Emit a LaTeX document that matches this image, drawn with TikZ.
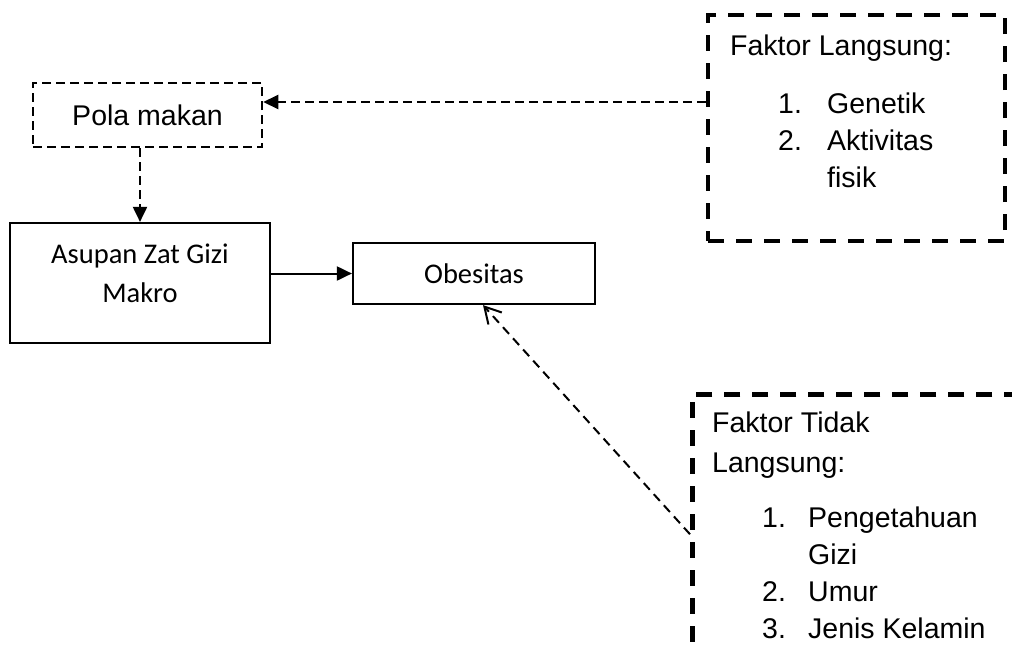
\documentclass[tikz,border=0pt]{standalone}
\usepackage{fontspec}
\setmainfont{Liberation Sans}
\newfontfamily\calibrifont{Carlito}
\usetikzlibrary{arrows.meta,positioning}
\tikzset{
solidbox/.style={
	draw, line width=2.2pt, inner sep=0pt, align=center,
	font=\calibrifont\fontsize{28.5}{39}\selectfont},
dashbox/.style={
	draw, line width=2.5pt, dash pattern=on 9pt off 5pt, inner sep=0pt,
	font=\fontsize{28.5}{37}\selectfont},
factorbox/.style={
	draw, line width=4.5pt, dash pattern=on 16pt off 12pt, inner sep=0pt},
listtxt/.style={
	inner sep=0pt, anchor=base west, font=\fontsize{28.5}{37}\selectfont},
link/.style={line width=2pt, -{Triangle[length=15pt,width=14pt]}},
dashlink/.style={link, dash pattern=on 9pt off 5pt},
openlink/.style={line width=2pt, dash pattern=on 9pt off 6pt,
	-{Straight Barb[length=16pt,width=18pt]}}
}
\newcommand{\itemno}[1]{\hspace*{48pt}\makebox[49pt][l]{#1}}
\newcommand{\itemnob}[1]{\hspace*{50pt}\makebox[46pt][l]{#1}}

\begin{document}
\begin{tikzpicture}[x=1pt, y=-1pt]
	\useasboundingbox (0,0) rectangle (1012,649);
	\clip (0,0) rectangle (1012,649);
	\node[dashbox, minimum width=229pt, minimum height=64pt] (pola) at (147.5,115) {Pola makan};
	\node[solidbox, minimum width=260pt, minimum height=120pt, text depth=20pt] (asupan) at (140,283) {Asupan Zat Gizi\\Makro};
	\node[solidbox, minimum width=242pt, minimum height=61pt] (obesitas) at (474,273.5) {Obesitas};
	\node[factorbox, minimum width=297pt, minimum height=226pt] (langsung) at (856.5,128) {};
	\node[factorbox, minimum width=360pt, minimum height=280pt, anchor=north west] (tidak) at (690,392) {};
	\node[listtxt] (langtxt) at (730,55) {\begin{tabular}[t]{@{}l@{}l@{}}
		\multicolumn{2}{@{}l@{}}{Faktor Langsung:}\\[21pt]
		\itemno{1.} & Genetik\\
		\itemno{2.} & Aktivitas\\
		 & fisik
	\end{tabular}};
	\node[listtxt] (tidaktxt) at (712,432) {\begin{tabular}[t]{@{}l@{}l@{}}
		\multicolumn{2}{@{}l@{}}{Faktor Tidak}\\[3pt]
		\multicolumn{2}{@{}l@{}}{Langsung:}\\[18pt]
		\itemnob{1.} & Pengetahuan\\
		 & Gizi\\
		\itemnob{2.} & Umur\\
		\itemnob{3.} & Jenis Kelamin
	\end{tabular}};
	\coordinate (lvl) at (0,102);
	\draw[dashlink] (langsung.west |- lvl) -- (pola.east |- lvl);
	\draw[dashlink] (pola.south -| asupan.north) -- (asupan.north);
	\draw[link] (asupan.east |- obesitas.west) -- (obesitas.west);
	\draw[openlink] (tidak.west) -- ([xshift=9pt]obesitas.south);
\end{tikzpicture}
\end{document}
